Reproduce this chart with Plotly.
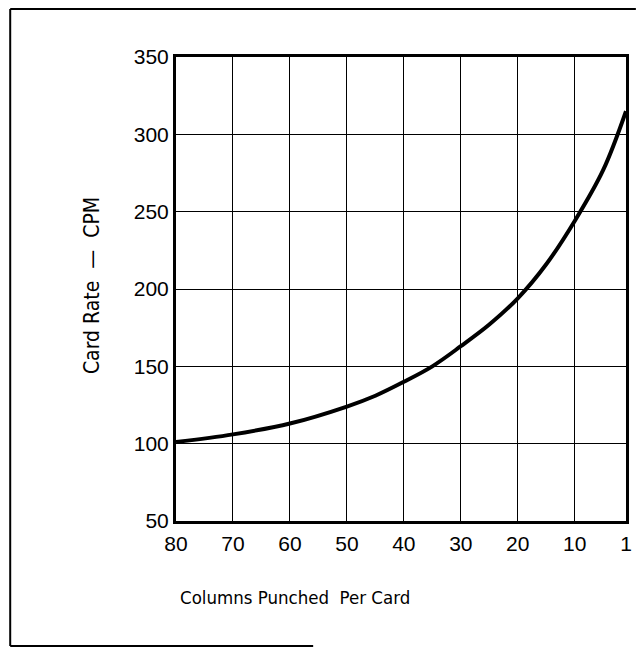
import plotly.graph_objects as go

# Data
columns = [80, 70, 60, 50, 45, 40, 35, 30, 25, 20, 15, 10, 5, 1]
card_rate = [101, 106, 113, 124, 131, 140, 150, 163, 177, 194, 216, 244, 277, 315]

x_tick_vals = [80, 70, 60, 50, 40, 30, 20, 10, 1]
x_tick_text = ["80", "70", "60", "50", "40", "30", "20", "10", "1"]
y_tick_vals = [50, 100, 150, 200, 250, 300, 350]

TICK_FONT = "Liberation Sans, Arial, sans-serif"
TITLE_FONT = "DejaVu Sans Condensed, Liberation Sans, sans-serif"

fig = go.Figure()
fig.add_trace(go.Scatter(
    x=columns, y=card_rate, mode="lines",
    line=dict(color="black", width=4, shape="spline", smoothing=1.0),
    showlegend=False, hoverinfo="skip"))

L, R, T, B = 176, 10, 57, 130
W, H = 642, 651
pw, ph = W - L - R, H - T - B

def px(x):
    return (x - L) / pw

def py(y):
    return (H - B - y) / ph

fig.update_layout(
    width=W, height=H,
    margin=dict(l=L, r=R, t=T, b=B),
    paper_bgcolor="white", plot_bgcolor="white",
    font=dict(family=TICK_FONT, color="black", size=21),
    xaxis=dict(
        range=[80, 1], tickvals=x_tick_vals, ticktext=x_tick_text,
        showgrid=True, gridcolor="black", gridwidth=1.3,
        showline=True, linecolor="black", linewidth=3, mirror=True,
        ticks="", ticklabelstandoff=2, zeroline=False,
        tickfont=dict(size=21, family=TICK_FONT),
    ),
    yaxis=dict(
        range=[50, 350], tickvals=y_tick_vals,
        showgrid=True, gridcolor="black", gridwidth=1.3,
        showline=True, linecolor="black", linewidth=3, mirror=True,
        ticks="", ticklabelstandoff=0, zeroline=False,
        tickfont=dict(size=21, family=TICK_FONT),
    ),
    annotations=[
        dict(text="Columns Punched  Per Card", xref="paper", yref="paper",
             x=px(297), y=py(597), xanchor="center", yanchor="middle",
             showarrow=False, font=dict(size=18.5, family=TITLE_FONT)),
        dict(text="Card Rate  —  CPM", xref="paper", yref="paper",
             x=px(91), y=py(286), xanchor="center", yanchor="middle",
             textangle=-90, showarrow=False,
             font=dict(size=21, family=TITLE_FONT)),
    ],
    shapes=[
        dict(type="line", xref="paper", yref="paper",
             x0=px(8), x1=px(8), y0=py(9), y1=py(646),
             line=dict(color="black", width=2)),
        dict(type="line", xref="paper", yref="paper",
             x0=px(8), x1=px(642), y0=py(9), y1=py(9),
             line=dict(color="black", width=2)),
        dict(type="line", xref="paper", yref="paper",
             x0=px(8), x1=px(315), y0=py(646), y1=py(646),
             line=dict(color="black", width=2)),
    ],
)

fig.write_html("out.html", config={"displayModeBar": False},
               post_script="document.body.style.margin='0';")
